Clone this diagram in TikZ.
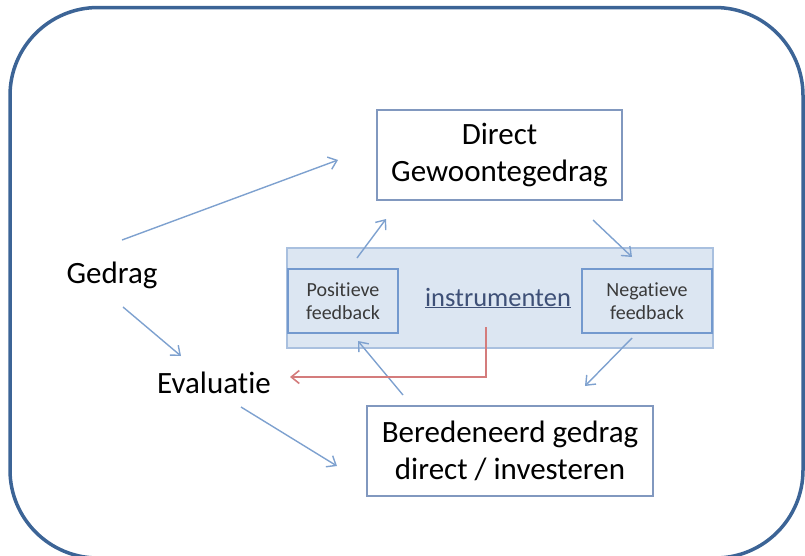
\documentclass[tikz,border=0pt]{standalone}
\usepackage{fontspec}
\setmainfont{Carlito}[RawFeature=-liga]
\usetikzlibrary{arrows.meta}
\definecolor{frameblue}{HTML}{3C6496}
\definecolor{boxline}{HTML}{8198BF}
\definecolor{bandfill}{HTML}{DCE6F2}
\definecolor{bandline}{HTML}{A9C0DF}
\definecolor{fbline}{HTML}{7399CE}
\definecolor{arrowblue}{HTML}{7EA1CF}
\definecolor{redarrow}{HTML}{D47C7C}
\definecolor{instr}{HTML}{3E5077}
\definecolor{smalltext}{HTML}{3A3A3A}
\tikzset{
  bigtext/.style={font=\fontsize{31}{37}\selectfont, text=black, inner sep=0pt, align=center},
  whitebox/.style={draw=boxline, line width=2pt, fill=white, align=center,
    font=\fontsize{31}{37}\selectfont, inner sep=0pt},
  fbbox/.style={draw=fbline, line width=1.6pt, fill=bandfill, align=center,
    font=\fontsize{20}{23.5}\selectfont, text=smalltext, inner sep=0pt,
    minimum height=64pt},
  flow/.style={draw=arrowblue, line width=1.4pt,
    -{Straight Barb[length=8pt,width=13pt,line width=1.4pt]}},
  redflow/.style={draw=redarrow, line width=1.6pt,
    -{Straight Barb[length=8pt,width=13pt,line width=1.6pt]}},
}
\begin{document}
\begin{tikzpicture}[x=1pt,y=-1pt]
\useasboundingbox (0,0) rectangle (805,555);
\clip (0,0) rectangle (805,555);
% outer rounded frame
\draw[frameblue, line width=3.5pt, rounded corners=88pt] (10,7.5) rectangle (803,558);

% instrument band with the two feedback boxes
\node[draw=bandline, line width=1.6pt, fill=bandfill, minimum width=426pt,
  minimum height=100pt, inner sep=0pt] (band) at (500,298) {};
\node[fbbox, minimum width=110pt] (pos) at (343,301) {Positieve\\feedback};
\node[fbbox, minimum width=130pt] (neg) at (647,301) {Negatieve\\feedback};
\node[font=\fontsize{26.5}{30}\selectfont, text=instr, inner sep=0pt] (instr) at (498,298)
  {\underline{instrumenten}};

% main boxes
\node[whitebox, minimum width=245pt, minimum height=90pt] (direct) at (499.5,155)
  {Direct\\Gewoontegedrag};
\node[whitebox, minimum width=286pt, minimum height=90pt] (bered) at (510,451)
  {Beredeneerd gedrag\\direct / investeren};

% plain labels
\node[bigtext] (gedrag) at (112,275) {Gedrag};
\node[bigtext] (eval) at (214,383) {Evaluatie};

% connectors
\draw[flow] ([shift={(10,-35)}]gedrag.center) -- ([shift={(-161.5,5)}]direct.center);
\draw[flow] ([shift={(11,32)}]gedrag.center) -- ([shift={(-33,-27)}]eval.center);
\draw[flow] ([shift={(27,24)}]eval.center) -- ([shift={(-173,15)}]bered.center);
\draw[flow] ([shift={(14,-43)}]pos.center) -- ([shift={(-113.5,64)}]direct.center);
\draw[flow] ([shift={(93.5,65)}]direct.center) -- ([shift={(-15,-44)}]neg.center);
\draw[flow] ([shift={(-15,37)}]neg.center) -- ([shift={(75,-65)}]bered.center);
\draw[flow] ([shift={(-107,-56)}]bered.center) -- ([shift={(15,40)}]pos.center);
\draw[redflow] ([shift={(-12,29)}]instr.center) |- ([shift={(76,-6)}]eval.center);
\end{tikzpicture}
\end{document}
